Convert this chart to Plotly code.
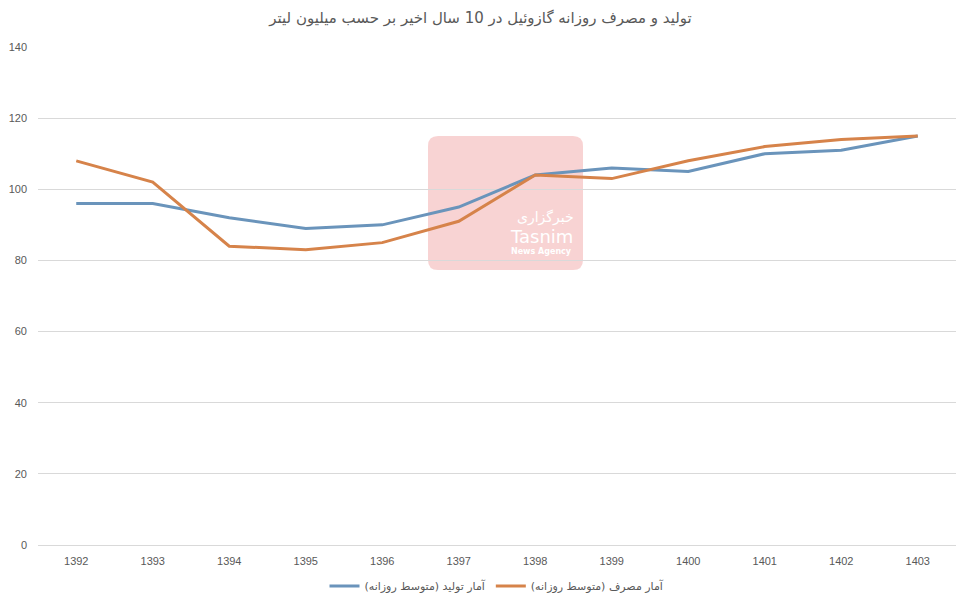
import plotly.graph_objects as go

years = ["1392", "1393", "1394", "1395", "1396", "1397", "1398", "1399", "1400", "1401", "1402", "1403"]
production = [96, 96, 92, 89, 90, 95, 104, 106, 105, 110, 111, 115]
consumption = [108, 102, 84, 83, 85, 91, 104, 103, 108, 112, 114, 115]
y_ticks = [0, 20, 40, 60, 80, 100, 120, 140]

title_text = "تولید و مصرف روزانه گازوئیل در 10 سال اخیر بر حسب میلیون لیتر"
name_prod = "آمار تولید (متوسط روزانه)"
name_cons = "آمار مصرف (متوسط روزانه)"

xs = list(range(len(years)))

fig = go.Figure()
fig.add_trace(go.Scatter(x=xs, y=production, mode="lines", name=name_prod,
                         line=dict(color="#6a94bb", width=3)))
fig.add_trace(go.Scatter(x=xs, y=consumption, mode="lines", name=name_cons,
                         line=dict(color="#d6834a", width=3)))

# watermark: rounded rectangle (pixel positions converted to paper fractions)
W, H = 918.0, 498.0
def px(x):
    return (x - 38) / W
def py(y):
    return (545 - y) / H
x0, x1, yt, yb, r = 428, 583, 136, 270, 10
path = (f"M {px(x0 + r)},{py(yt)} L {px(x1 - r)},{py(yt)} "
        f"Q {px(x1)},{py(yt)} {px(x1)},{py(yt + r)} "
        f"L {px(x1)},{py(yb - r)} Q {px(x1)},{py(yb)} {px(x1 - r)},{py(yb)} "
        f"L {px(x0 + r)},{py(yb)} Q {px(x0)},{py(yb)} {px(x0)},{py(yb - r)} "
        f"L {px(x0)},{py(yt + r)} Q {px(x0)},{py(yt)} {px(x0 + r)},{py(yt)} Z")
fig.add_shape(type="path", xref="paper", yref="paper", path=path,
              fillcolor="rgba(232,110,110,0.30)", line=dict(width=0), layer="below")
fig.add_annotation(xref="paper", yref="paper", x=px(545), y=py(217),
                   text="خبرگزاری", showarrow=False,
                   font=dict(color="white", size=14, family="DejaVu Sans"))
fig.add_annotation(xref="paper", yref="paper", x=px(541), y=py(237),
                   text="Tasnim", showarrow=False,
                   font=dict(color="white", size=18, family="DejaVu Sans"))
fig.add_annotation(xref="paper", yref="paper", x=px(541), y=py(251),
                   text="<b>News Agency</b>", showarrow=False,
                   font=dict(color="white", size=8, family="DejaVu Sans"))

fig.update_layout(
    width=961, height=601,
    margin=dict(l=38, r=5, t=47, b=56, autoexpand=False),
    paper_bgcolor="white", plot_bgcolor="white",
    title=dict(text=title_text, x=0.5, xanchor="center", y=0.97, yanchor="middle",
               font=dict(size=15, color="#595959", family="DejaVu Sans")),
    xaxis=dict(range=[-0.5, len(years) - 0.5], tickvals=xs, ticktext=years,
               showgrid=False, zeroline=False, showline=False, ticks="",
               ticklabelstandoff=8, automargin=False,
               tickfont=dict(size=11, color="#595959", family="Liberation Sans")),
    yaxis=dict(range=[0, 140], tickvals=y_ticks, showgrid=True, gridcolor="#d9d9d9",
               gridwidth=1, zeroline=True, zerolinecolor="#d9d9d9", zerolinewidth=1,
               ticks="", ticklabelstandoff=10, automargin=False,
               tickfont=dict(size=11, color="#595959", family="Liberation Sans")),
    legend=dict(orientation="h", x=0.5, xanchor="center", yref="container",
                y=0.025, yanchor="middle",
                font=dict(size=11, color="#595959", family="DejaVu Sans")),
    showlegend=True,
)

fig.write_html("out.html")
